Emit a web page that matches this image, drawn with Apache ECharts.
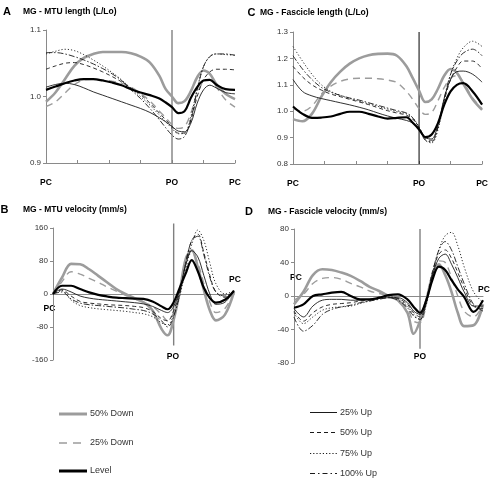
<!DOCTYPE html>
<html><head><meta charset="utf-8">
<script src="https://cdn.jsdelivr.net/npm/echarts@6/dist/echarts.min.js"></script>
<style>html,body{margin:0;padding:0;background:#fff}#c{width:491px;height:480px}</style>
</head><body><div id="c"></div>
<script>
// x positions across the stride (PC=0, PO=40, PC=60)
const xs = [0,3,6,9,12,15,18,21,24,27,30,33,36,38,40,42,44,46,48,50,52,54,57,60];
const phaseTickPos = [0, 40, 60];
const phaseTickText = ['PC', 'PO', 'PC'];
const seriesNames = ['50% Down','25% Down','Level','25% Up','50% Up','75% Up','100% Up'];
const panelLetters = ['A','C','B','D'];
const panelTitles = ['MG - MTU length (L/Lo)','MG - Fascicle length (L/Lo)','MG - MTU velocity (mm/s)','MG - Fascicle velocity (mm/s)'];

// Panel A: MTU length
const mtuLenDown50 = [0.992,1.006,1.026,1.046,1.058,1.064,1.067,1.067,1.067,1.065,1.06,1.051,1.031,1.011,1.0,0.99,0.993,1.008,1.029,1.039,1.034,1.019,1.004,0.996];
const mtuLenDown25 = [0.985,0.992,1.005,1.018,1.025,1.026,1.025,1.023,1.02,1.014,1.005,0.993,0.978,0.968,0.958,0.952,0.955,0.975,1.005,1.022,1.025,1.015,0.995,0.984];
const mtuLenLevel  = [1.010,1.015,1.02,1.024,1.026,1.026,1.024,1.021,1.017,1.011,1.006,1.002,0.997,0.991,0.984,0.975,0.978,0.998,1.014,1.024,1.025,1.018,1.011,1.01];
const mtuLenUp25   = [1.014,1.018,1.02,1.018,1.013,1.007,1.002,0.997,0.992,0.987,0.982,0.976,0.968,0.962,0.955,0.948,0.947,0.96,0.99,1.01,1.017,1.013,1.006,1.004];
const mtuLenUp50   = [1.041,1.046,1.05,1.051,1.048,1.043,1.037,1.03,1.022,1.013,1.003,0.99,0.975,0.965,0.955,0.945,0.945,0.965,1.0,1.025,1.037,1.041,1.041,1.04];
const mtuLenUp75   = [1.064,1.068,1.071,1.069,1.063,1.055,1.046,1.036,1.025,1.012,1.0,0.987,0.972,0.962,0.952,0.944,0.945,0.97,1.012,1.045,1.06,1.064,1.063,1.062];
const mtuLenUp100  = [1.066,1.066,1.064,1.06,1.055,1.049,1.042,1.034,1.024,1.01,0.997,0.982,0.965,0.953,0.942,0.936,0.94,0.965,1.01,1.045,1.06,1.064,1.064,1.062];

// Panel C: Fascicle length
const fasLenDown50 = [0.97,0.962,0.99,1.055,1.11,1.15,1.18,1.2,1.212,1.217,1.218,1.21,1.17,1.125,1.078,1.035,1.045,1.085,1.135,1.16,1.145,1.105,1.045,1.005];
const fasLenDown25 = [1.01,1.0,1.02,1.065,1.095,1.113,1.122,1.125,1.125,1.123,1.118,1.108,1.075,1.045,1.01,0.988,0.995,1.04,1.09,1.125,1.135,1.11,1.05,1.01];
const fasLenLevel  = [1.018,0.99,0.975,0.976,0.98,0.99,0.998,0.998,0.99,0.98,0.972,0.975,0.977,0.956,0.931,0.902,0.912,0.955,1.025,1.075,1.1,1.106,1.075,1.025];
const fasLenUp25   = [1.12,1.075,1.058,1.048,1.04,1.032,1.024,1.015,1.005,0.993,0.982,0.973,0.965,0.955,0.935,0.9,0.895,0.95,1.05,1.12,1.15,1.152,1.14,1.11];
const fasLenUp50   = [1.17,1.13,1.1,1.08,1.065,1.055,1.045,1.035,1.025,1.013,1.002,0.993,0.985,0.97,0.94,0.895,0.89,0.94,1.04,1.12,1.165,1.19,1.19,1.16];
const fasLenUp75   = [1.245,1.19,1.14,1.1,1.075,1.06,1.048,1.038,1.028,1.018,1.008,0.998,0.99,0.975,0.94,0.89,0.88,0.93,1.04,1.14,1.2,1.24,1.265,1.245];
const fasLenUp100  = [1.21,1.16,1.12,1.09,1.072,1.06,1.05,1.042,1.032,1.022,1.012,1.002,0.993,0.975,0.935,0.89,0.885,0.94,1.05,1.14,1.19,1.22,1.235,1.21];

// Panel B: MTU velocity
const mtuVelDown50 = [0,40,73,72,60,44,28,12,0,-10,-20,-40,-85,-100,-62,5,85,106,65,10,-40,-64,-50,5];
const mtuVelDown25 = [0,30,54,48,38,28,17,7,-3,-12,-20,-30,-50,-65,-45,10,80,100,75,25,-20,-45,-35,5];
const mtuVelLevel  = [0,20,20,12,4,-2,-6,-9,-10,-11,-12,-18,-30,-37,-20,15,50,82,55,15,-10,-21,-14,8];
const mtuVelUp25   = [0,12,5,-5,-10,-13,-15,-17,-19,-21,-24,-30,-40,-45,-30,10,70,105,90,45,0,-25,-20,8];
const mtuVelUp50   = [0,10,-5,-18,-22,-24,-26,-27,-28,-30,-33,-42,-60,-65,-40,5,75,130,145,100,45,5,-8,8];
const mtuVelUp75   = [0,8,-15,-28,-33,-36,-38,-40,-42,-45,-48,-55,-70,-75,-50,-5,60,120,155,130,75,25,0,8];
const mtuVelUp100  = [0,5,-12,-22,-26,-28,-30,-32,-34,-37,-40,-48,-65,-80,-55,0,75,130,140,95,40,5,-5,8];

// Panel D: Fascicle velocity
const fasVelDown50 = [-10,5,25,32,31,28,24,18,11,6,0,-5,-20,-45,-30,-5,25,38,25,5,-20,-36,-35,-10];
const fasVelDown25 = [-5,2,15,21,22,20,15,11,6,3,0,-4,-15,-30,-32,-10,25,42,40,22,0,-18,-25,-10];
const fasVelLevel  = [-14,-10,0,2,4,5,0,-4,-4,-2,1,2,-4,-13,-20,-5,20,35,31,19,8,-1,-19,-5];
const fasVelUp25   = [-15,-25,-12,-5,-4,-4,-5,-5,-4,-3,-2,-2,-8,-18,-22,-5,25,45,50,38,22,5,-12,-12];
const fasVelUp50   = [-18,-30,-20,-13,-10,-9,-8,-6,-5,-3,-2,-3,-10,-20,-25,-5,30,50,55,45,28,10,-12,-15];
const fasVelUp75   = [-20,-33,-25,-17,-14,-13,-12,-9,-6,-3,-1,-3,-12,-22,-28,-10,25,55,72,76,60,35,5,-8];
const fasVelUp100  = [-25,-42,-35,-22,-16,-13,-11,-8,-6,-4,-2,-5,-14,-24,-28,-8,28,55,65,55,35,15,-10,-18];

// y axis ranges per panel (A, C, B, D)
const yMin = [0.9, 0.8, -160, -80];
const yMax = [1.1, 1.3, 160, 80];
const yStep = [0.1, 0.1, 80, 40];
const yDecimals = [1, 1, 0, 0];
// vertical PO marker extent per panel
const poTop = [1.1, 1.3, 171, 80];
const poBottom = [0.9, 0.8, -125, -63];

const panelData = [
  [mtuLenDown50, mtuLenDown25, mtuLenLevel, mtuLenUp25, mtuLenUp50, mtuLenUp75, mtuLenUp100],
  [fasLenDown50, fasLenDown25, fasLenLevel, fasLenUp25, fasLenUp50, fasLenUp75, fasLenUp100],
  [mtuVelDown50, mtuVelDown25, mtuVelLevel, mtuVelUp25, mtuVelUp50, mtuVelUp75, mtuVelUp100],
  [fasVelDown50, fasVelDown25, fasVelLevel, fasVelUp25, fasVelUp50, fasVelUp75, fasVelUp100]
];

const FONT = '"Liberation Sans", Arial, sans-serif';
const styles = {
  '50% Down': {color:'#9c9c9c', width:2.6, type:'solid', dash:null, z:2},
  '25% Down': {color:'#9c9c9c', width:1.4, type:[7,5], dash:[8,6], z:3},
  'Level':    {color:'#000000', width:2.2, type:'solid', dash:null, z:6},
  '25% Up':   {color:'#1a1a1a', width:0.9, type:'solid', dash:null, z:4},
  '50% Up':   {color:'#1a1a1a', width:0.9, type:[4,3], dash:[4,3], z:4},
  '75% Up':   {color:'#1a1a1a', width:0.9, type:[1.2,2], dash:[1.2,2], z:4},
  '100% Up':  {color:'#1a1a1a', width:0.9, type:[6,2,1.5,2], dash:[5,3,1.5,3], z:4}
};
const legendWidth = {'50% Down':3, '25% Down':1.4, 'Level':3, '25% Up':1, '50% Up':1, '75% Up':1, '100% Up':1};

const grids = [
  {left:46, top:30, width:189, height:133},
  {left:293, top:32, width:190, height:132},
  {left:53, top:228, width:181, height:132},
  {left:294, top:229, width:189, height:134}
];
const poColor = ['#808080', '#000000', '#808080', '#808080'];
const poWidth = [1.4, 1, 1.4, 1.4];

const xAxes = grids.map((g, i) => {
  const isLen = i < 2;
  return {
    type:'value', gridIndex:i, min:0, max:60, interval:10,
    axisLine:{show:true, onZero:!isLen, lineStyle:{color:'#8a8a8a', width:1}},
    axisTick:{show:isLen, inside:true, length:3, lineStyle:{color:'#8a8a8a'}},
    axisLabel:{show:isLen, showMinLabel:true, showMaxLabel:true, margin:15,
      fontFamily:FONT, fontSize:8.5, fontWeight:'bold', color:'#000',
      formatter:(v)=>{ const k = phaseTickPos.indexOf(Math.round(v)); return k>=0 ? phaseTickText[k] : ''; }},
    splitLine:{show:false}
  };
});
const yAxes = grids.map((g, i) => ({
  type:'value', gridIndex:i, min:yMin[i], max:yMax[i], interval:yStep[i],
  axisLine:{show:true, onZero:false, lineStyle:{color:'#8a8a8a', width:1}},
  axisTick:{show:true, inside:false, length:3, lineStyle:{color:'#8a8a8a'}},
  axisLabel:{margin:5, fontFamily:FONT, fontSize:8, color:'#333',
    formatter:(v)=> Number(v).toFixed(yDecimals[i])},
  splitLine:{show:false}
}));

const series = [];
grids.forEach((g, i) => {
  series.push({
    type:'line', name:'PO'+i, xAxisIndex:i, yAxisIndex:i, clip:false,
    data:[[phaseTickPos[1], poTop[i]], [phaseTickPos[1], poBottom[i]]],
    symbol:'none', silent:true, z:1,
    lineStyle:{color:poColor[i], width:poWidth[i]}
  });
  const order = [0,1,3,4,5,6,2];
  order.forEach(k => {
    const name = seriesNames[k];
    const s = styles[name];
    const vals = panelData[i][k];
    series.push({
      type:'line', name, xAxisIndex:i, yAxisIndex:i,
      data: xs.map((x, j) => [x, vals[j]]),
      smooth:0.35, symbol:'none', silent:true, z:s.z,
      lineStyle:{color:s.color, width:s.width, type:s.type},
      itemStyle:{color:s.color}
    });
  });
});

const graphics = [];
const letterPos = [[3,12],[247.5,13],[0.5,210],[245,211.5]];
const titlePos = [[23,12],[260,13],[23,210],[268,211.5]];
panelLetters.forEach((L, i) => {
  graphics.push({type:'text', x:letterPos[i][0], y:letterPos[i][1],
    style:{text:L, font:'bold 11px '+FONT, fill:'#000', textAlign:'left', textVerticalAlign:'middle'}});
  graphics.push({type:'text', x:titlePos[i][0], y:titlePos[i][1],
    style:{text:panelTitles[i], font:'bold 8.5px '+FONT, fill:'#000', textAlign:'left', textVerticalAlign:'middle'}});
});
// phase labels for the velocity panels
const velLabelPos = [
  [[49.5,308.5],[173,356.5],[235,280]],
  [[296,277.5],[420,356.5],[484,289.5]]
];
velLabelPos.forEach(p => p.forEach((xy, k) => {
  graphics.push({type:'text', x:xy[0], y:xy[1],
    style:{text:phaseTickText[k], font:'bold 8.5px '+FONT, fill:'#000', textAlign:'center', textVerticalAlign:'middle'}});
}));

// legend (two columns), drawn as line samples + labels
const legendCols = [
  {names:seriesNames.slice(0,3), x1:59, x2:87, ys:[414,443,471]},
  {names:seriesNames.slice(3), x1:310, x2:337, ys:[412.5,432.5,453.5,473.5]}
];
legendCols.forEach(col => col.names.forEach((n, k) => {
  const s = styles[n];
  graphics.push({type:'line', shape:{x1:col.x1, y1:col.ys[k], x2:col.x2, y2:col.ys[k]},
    style:{stroke:'#000', lineWidth:legendWidth[n], lineDash:s.dash}});
  graphics.push({type:'text', x:col.x2+3, y:col.ys[k],
    style:{text:n, font:'9px '+FONT, fill:'#333', textAlign:'left', textVerticalAlign:'middle'}});
}));
// grey samples keep their series colour
graphics.forEach(g => {
  if (g.type === 'line') {
    const y = g.shape.y1;
    legendCols.forEach(col => col.names.forEach((n, k) => {
      if (col.ys[k] === y && col.x1 === g.shape.x1) g.style.stroke = styles[n].color;
    }));
  }
});

const option = {
  animation:false,
  backgroundColor:'#ffffff',
  grid:grids,
  xAxis:xAxes,
  yAxis:yAxes,
  graphic:graphics,
  series
};
const chart = echarts.init(document.getElementById('c'), null, {renderer:'canvas'});
chart.setOption(option);
</script>
</body></html>
